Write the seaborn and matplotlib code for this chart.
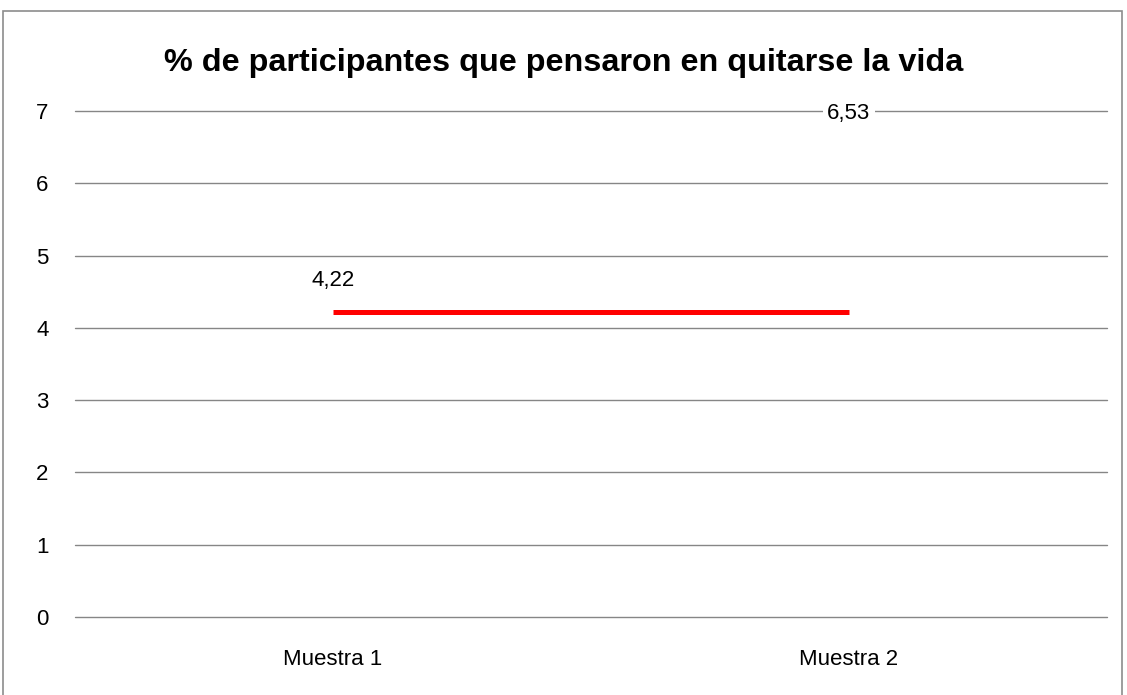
import matplotlib
matplotlib.use("Agg")
import matplotlib.pyplot as plt
import seaborn as sns
import pandas as pd
from matplotlib.patches import Rectangle

categorias = ["Muestra 1", "Muestra 2"]
valores = [4.22, 6.53]
linea_roja = [4.22, 4.22]
etiquetas = ["4,22", "6,53"]
titulo = "% de participantes que pensaron en quitarse la vida"

sns.set_style("white")
plt.rcParams["font.family"] = ["Liberation Sans", "DejaVu Sans"]
plt.rcParams["text.color"] = "black"
plt.rcParams["xtick.color"] = "black"
plt.rcParams["ytick.color"] = "black"

fig = plt.figure(figsize=(11.27, 6.95), dpi=100)
ax = fig.add_axes([75 / 1127, 1 - 617 / 695, (1107 - 75) / 1127, (617 - 111) / 695])

df = pd.DataFrame({"muestra": categorias, "valor": linea_roja})
sns.lineplot(data=df, x="muestra", y="valor", color="#ff0000", linewidth=3.6,
             ax=ax, solid_capstyle="butt")

for i, (v, t) in enumerate(zip(valores, etiquetas)):
    ax.annotate(t, (i, v), xytext=(0, 22.5), textcoords="offset points",
                ha="center", va="center", fontsize=16, color="black",
                bbox=dict(boxstyle="square,pad=0.2", fc="white", ec="none"),
                zorder=5)

ax.set_xlim(-0.5, 1.5)
ax.set_ylim(0, 7)
ax.set_yticks(range(0, 8))
ax.yaxis.grid(True, color="#868686", linewidth=1.0)
for gl in ax.get_ygridlines():
    gl.set_clip_on(False)
ax.set_axisbelow(True)
for s in ax.spines.values():
    s.set_visible(False)
ax.tick_params(axis="both", length=0, labelsize=16, labelcolor="black")
ax.tick_params(axis="y", pad=19)
ax.tick_params(axis="x", pad=23)
ax.set_xlabel("")
ax.set_ylabel("")

fig.text(0.5, 1 - 63 / 695, titulo, ha="center", va="center",
         fontsize=23.3, fontweight="bold", color="black")

fig.patches.append(Rectangle((3 / 1127, -0.01), 1119 / 1127, 1 - 11 / 695 + 0.01,
                             transform=fig.transFigure, fill=False,
                             ec="#8c8c8c", lw=1.2))

fig.savefig("out.png", dpi=100)
plt.close(fig)
